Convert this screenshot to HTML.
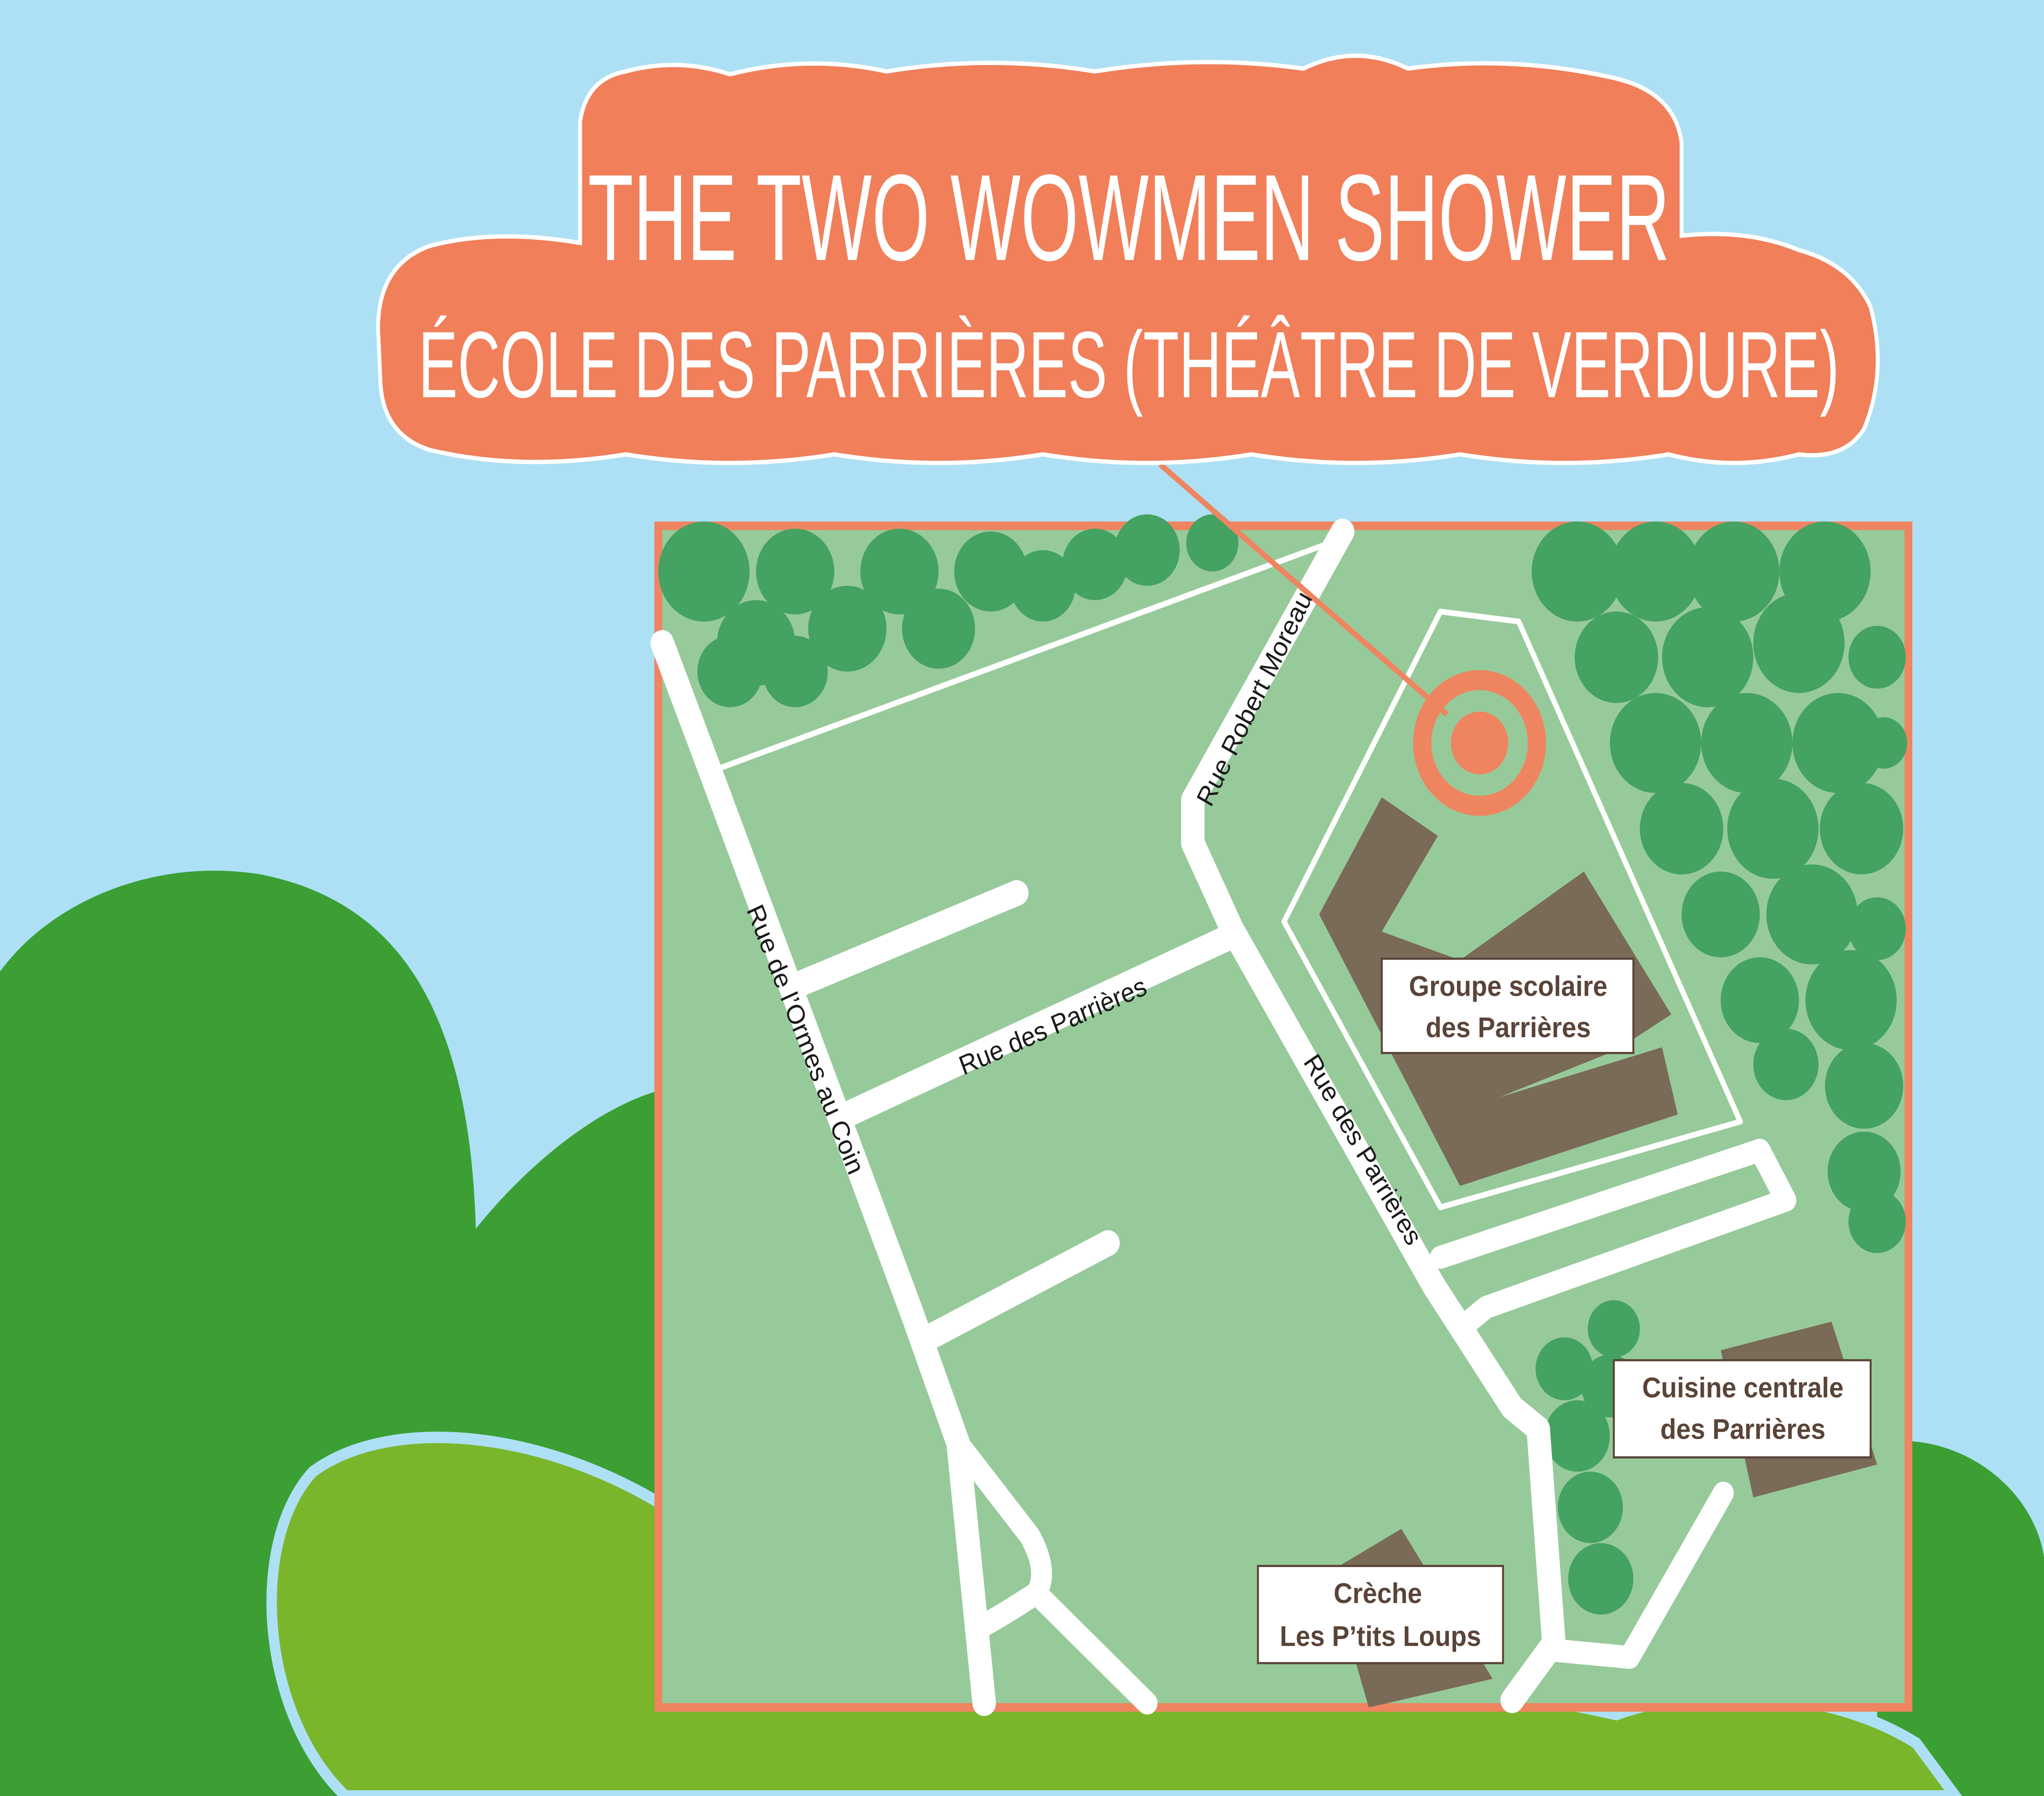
<!DOCTYPE html>
<html><head><meta charset="utf-8"><style>
html,body{margin:0;padding:0;background:#ade0f5;width:100%;height:100%;overflow:hidden;}
svg{display:block;position:fixed;left:0;top:0;width:100vw;height:100vh;}
</style></head><body>
<svg viewBox="0 0 1568 1257" preserveAspectRatio="none" xmlns="http://www.w3.org/2000/svg">
<rect width="1568" height="1257" fill="#ade0f5"/>
<path d="M0,680 C40,630 120,600 200,612 C300,630 360,700 365,860 C400,820 460,770 520,760 L520,1257 L0,1257 Z" fill="#3b9f33"/>
<path d="M1440,1010 C1500,1000 1560,1040 1568,1090 L1568,1257 L1440,1257 Z" fill="#3b9f33"/>
<path d="M265,1257 C200,1200 190,1080 240,1030 C300,990 420,1000 520,1060 L1240,1200 C1300,1180 1400,1180 1470,1220 L1500,1257 Z" fill="#7ab62b" stroke="#ade0f5" stroke-width="8"/>
<rect x="505" y="368" width="959" height="827" fill="#97ca9a" stroke="#ee8560" stroke-width="6"/>
<g fill="#44a262">
<circle cx="540" cy="400" r="35"/><circle cx="580" cy="450" r="30"/><circle cx="610" cy="400" r="30"/><circle cx="650" cy="440" r="30"/><circle cx="690" cy="400" r="30"/><circle cx="720" cy="440" r="28"/><circle cx="760" cy="400" r="28"/><circle cx="800" cy="410" r="25"/><circle cx="840" cy="395" r="25"/><circle cx="880" cy="385" r="25"/><circle cx="930" cy="380" r="20"/><circle cx="610" cy="470" r="25"/><circle cx="560" cy="470" r="25"/>
<circle cx="1210" cy="400" r="35"/><circle cx="1270" cy="400" r="35"/><circle cx="1330" cy="400" r="35"/><circle cx="1400" cy="400" r="35"/><circle cx="1240" cy="460" r="32"/><circle cx="1310" cy="460" r="35"/><circle cx="1380" cy="450" r="35"/><circle cx="1440" cy="460" r="22"/><circle cx="1270" cy="520" r="35"/><circle cx="1340" cy="520" r="35"/><circle cx="1410" cy="520" r="35"/><circle cx="1445" cy="520" r="18"/><circle cx="1290" cy="580" r="32"/><circle cx="1360" cy="580" r="35"/><circle cx="1428" cy="580" r="32"/><circle cx="1320" cy="640" r="30"/><circle cx="1390" cy="640" r="35"/><circle cx="1440" cy="650" r="22"/><circle cx="1350" cy="700" r="30"/><circle cx="1420" cy="700" r="35"/><circle cx="1370" cy="745" r="25"/><circle cx="1430" cy="760" r="30"/><circle cx="1430" cy="820" r="28"/><circle cx="1440" cy="855" r="22"/>
<circle cx="1200" cy="958" r="22"/><circle cx="1238" cy="930" r="20"/><circle cx="1235" cy="970" r="22"/><circle cx="1210" cy="1005" r="25"/><circle cx="1220" cy="1055" r="25"/><circle cx="1228" cy="1105" r="25"/>
</g>
<g fill="none" stroke="#fff" stroke-linecap="round" stroke-linejoin="round">
<polyline points="545,540 1020,380" stroke-width="4"/>
<polygon points="1105,428 1165,435 1335,785 1105,845 985,645" stroke-width="4"/>
<polyline points="508,450 545,540 700,920 735,1010 755,1192" stroke-width="18"/>
<polyline points="1030,372 915,560 915,590 945,650 1100,900 1160,985 1180,1000 1192,1150 1160,1190" stroke-width="18"/>
<polyline points="650,780 945,655" stroke-width="18"/>
<polyline points="610,690 780,625" stroke-width="18"/>
<polyline points="715,935 850,870" stroke-width="18"/>
<path d="M735,1010 L790,1075 Q805,1100 795,1115 L880,1192" stroke-width="16"/>
<path d="M795,1115 Q770,1130 750,1140" stroke-width="16"/>
<polyline points="1105,880 1350,805 1370,840 1140,915 1120,930" stroke-width="16"/>
<polyline points="1192,1155 1250,1160 1322,1045" stroke-width="16"/>
</g>
<line x1="890" y1="325" x2="1110" y2="500" stroke="#ee8560" stroke-width="4"/>
<circle cx="1135" cy="520" r="44" fill="none" stroke="#ee8560" stroke-width="14"/>
<circle cx="1135" cy="520" r="22" fill="#ee8560"/>
<g fill="#7a6a58">
<polygon points="1012,640 1060,558 1103,585 1060,652 1120,672 1215,610 1282,710 1240,735 1150,768 1275,733 1287,780 1120,830"/>
<polygon points="1320,945 1405,925 1440,1025 1345,1048"/>
<polygon points="1020,1100 1075,1070 1145,1175 1050,1195"/>
</g>
<g font-family="Liberation Sans, sans-serif" font-size="19" fill="#1a1a1a">
<text transform="translate(612,730) rotate(67)" text-anchor="middle">Rue de l’Ormes au Coin</text>
<text transform="translate(968,492) rotate(-62)" text-anchor="middle">Rue Robert Moreau</text>
<text transform="translate(810,724) rotate(-22)" text-anchor="middle">Rue des Parrières</text>
<text transform="translate(1040,808) rotate(58)" text-anchor="middle">Rue des Parrières</text>
</g>
<g font-family="Liberation Sans, sans-serif" font-size="20" font-weight="bold" fill="#5a4438" text-anchor="middle">
<rect x="1060" y="671" width="193" height="66" fill="#fff" stroke="#5a4438" stroke-width="1.5"/>
<text x="1157" y="697">Groupe scolaire</text><text x="1157" y="726">des Parrières</text>
<rect x="1238" y="952" width="197" height="68" fill="#fff" stroke="#5a4438" stroke-width="1.5"/>
<text x="1337" y="978">Cuisine centrale</text><text x="1337" y="1007">des Parrières</text>
<rect x="965" y="1096" width="188" height="68" fill="#fff" stroke="#5a4438" stroke-width="1.5"/>
<text x="1057" y="1122">Crèche</text><text x="1059" y="1152">Les P’tits Loups</text>
</g>
<g fill="#f07f5a" stroke="#fff" stroke-width="3">
<path d="M445,170 L445,85 Q450,55 480,50 Q520,40 560,52 Q620,38 680,50 Q760,38 840,50 Q920,38 1000,48 Q1040,30 1080,48 Q1160,38 1240,55 Q1285,65 1290,100 L1290,165 Q1340,160 1380,175 Q1420,185 1435,215 Q1448,260 1430,300 Q1415,322 1380,318 Q1330,330 1280,318 Q1200,330 1120,318 Q1040,330 960,318 Q880,330 800,318 Q720,330 640,318 Q560,330 480,318 Q400,330 330,315 Q295,305 292,270 L290,230 Q290,185 330,172 Q380,160 445,170 Z"/>
</g>
<g font-family="Liberation Sans Narrow, Liberation Sans, sans-serif" fill="#fff" text-anchor="middle">
<text x="866" y="182" font-size="86" textLength="830" lengthAdjust="spacingAndGlyphs">THE TWO WOWMEN SHOWER</text>
<text x="866" y="278" font-size="66" textLength="1090" lengthAdjust="spacingAndGlyphs">ÉCOLE DES PARRIÈRES (THÉÂTRE DE VERDURE)</text>
</g>
</svg>
</body></html>
